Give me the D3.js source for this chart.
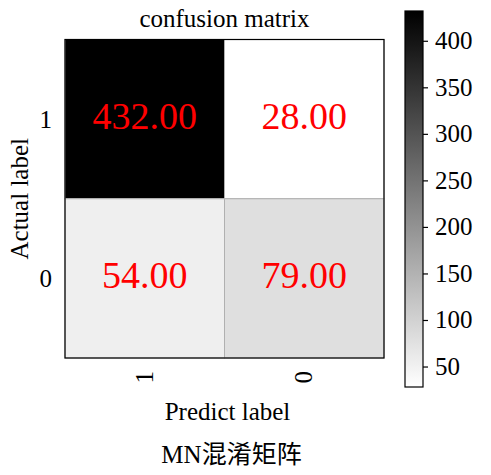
<!DOCTYPE html>
<html><head><meta charset="utf-8">
<script src="https://cdn.jsdelivr.net/npm/d3@7"></script>
<style>body{margin:0;background:#fff;} svg{display:block;} text{font-family:"Liberation Serif","Times New Roman",serif;}</style>
</head><body>
<svg id="c" width="491" height="475"></svg>
<script>
const actualLabels = ["1", "0"];
const predictLabels = ["1", "0"];
const matrix = [[432, 28], [54, 79]];
const cbTicks = [50, 100, 150, 200, 250, 300, 350, 400];
const title = "confusion matrix";
const xTitle = "Predict label";
const yTitle = "Actual label";
const caption = "MN混淆矩阵";

const svg = d3.select("#c");
const L = 65, T = 39.5, R = 384, B = 358;
const x = d3.scaleBand().domain(predictLabels).range([L, R]);
const y = d3.scaleBand().domain(actualLabels).range([T, B]);
const flat = matrix.flat();
const vmin = d3.min(flat), vmax = d3.max(flat);
const color = d3.scaleLinear().domain([vmin, vmax]).range(["#ffffff", "#000000"]).interpolate(d3.interpolateRgb);

const cells = [];
actualLabels.forEach((a, i) => predictLabels.forEach((p, j) => cells.push({a, p, v: matrix[i][j]})));

svg.selectAll("rect.cell").data(cells).join("rect").attr("class", "cell")
  .attr("x", d => x(d.p)).attr("y", d => y(d.a))
  .attr("width", x.bandwidth()).attr("height", y.bandwidth())
  .attr("fill", d => color(d.v)).attr("stroke", "#b0b0b0").attr("stroke-width", 1);

svg.append("rect").attr("x", L).attr("y", T).attr("width", R - L).attr("height", B - T)
  .attr("fill", "none").attr("stroke", "#000").attr("stroke-width", 1.2);

svg.selectAll("text.val").data(cells).join("text").attr("class", "val")
  .attr("x", d => x(d.p) + x.bandwidth() / 2)
  .attr("y", d => y(d.a) + y.bandwidth() / 2 + 10)
  .attr("text-anchor", "middle").attr("font-size", 38).attr("fill", "red")
  .text(d => d.v.toFixed(2));

// y tick labels
svg.selectAll("text.yt").data(actualLabels).join("text").attr("class", "yt")
  .attr("x", 52).attr("y", d => y(d) + y.bandwidth() / 2 + 9)
  .attr("text-anchor", "end").attr("font-size", 25).text(d => d);

// x tick labels rotated
svg.selectAll("text.xt").data(predictLabels).join("text").attr("class", "xt")
  .attr("transform", d => `translate(${x(d) + x.bandwidth() / 2 + 8},${371}) rotate(-90)`)
  .attr("text-anchor", "end").attr("font-size", 25).text(d => d);

svg.append("text").attr("x", (L + R) / 2).attr("y", 27).attr("text-anchor", "middle")
  .attr("font-size", 25).text(title);
svg.append("text").attr("x", (L + R) / 2 + 3).attr("y", 420).attr("text-anchor", "middle")
  .attr("font-size", 25).text(xTitle);
svg.append("text").attr("transform", `translate(28,${(T + B) / 2}) rotate(-90)`)
  .attr("text-anchor", "middle").attr("font-size", 25).text(yTitle);
svg.append("text").attr("x", (L + R) / 2 + 7).attr("y", 463).attr("text-anchor", "middle")
  .attr("font-size", 25).style("font-family", "'Liberation Serif','Noto Sans CJK SC',serif").text(caption);

// colorbar
const cbX = 405, cbW = 18, cbT = 11, cbB = 387;
const cy = d3.scaleLinear().domain([vmin, vmax]).range([cbB, cbT]);
const grad = svg.append("defs").append("linearGradient").attr("id", "g")
  .attr("x1", 0).attr("y1", 1).attr("x2", 0).attr("y2", 0);
grad.append("stop").attr("offset", 0).attr("stop-color", color(vmin));
grad.append("stop").attr("offset", 1).attr("stop-color", color(vmax));
svg.append("rect").attr("x", cbX).attr("y", cbT).attr("width", cbW).attr("height", cbB - cbT)
  .attr("fill", "url(#g)").attr("stroke", "#000").attr("stroke-width", 1.2);
const ax = d3.axisRight(cy).tickValues(cbTicks).tickSize(5).tickPadding(7);
const g = svg.append("g").attr("transform", `translate(${cbX + cbW},0)`).call(ax);
g.select(".domain").remove();
g.selectAll("line").attr("stroke", "#000").attr("stroke-width", 1.2);
g.selectAll("text").attr("font-size", 25).attr("fill", "#000")
  .style("font-family", "'Liberation Serif',serif");
</script>
</body></html>
